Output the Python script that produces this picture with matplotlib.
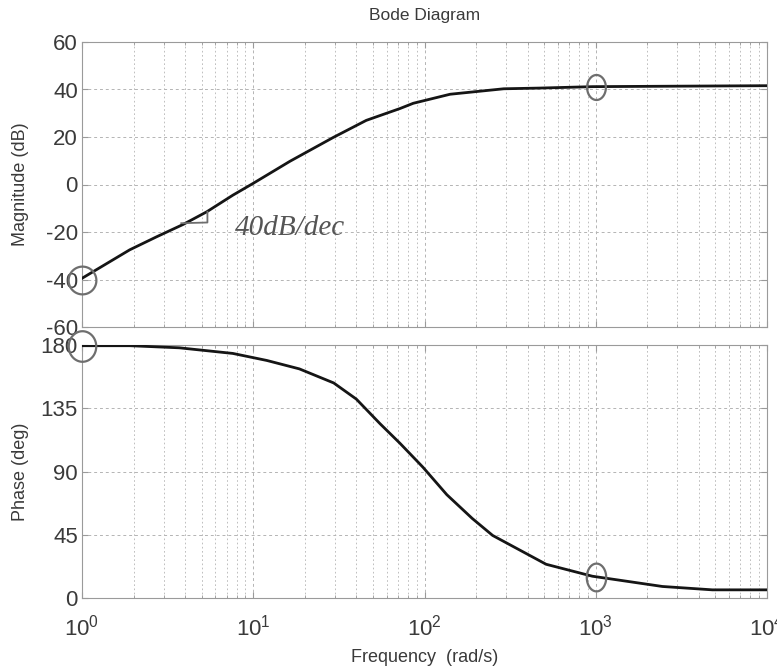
import numpy as np
import matplotlib
matplotlib.use("Agg")
import matplotlib.pyplot as plt
from matplotlib.path import Path
from matplotlib.ticker import LogLocator, FixedLocator, NullFormatter

plt.rcParams['font.family'] = ['Liberation Sans', 'DejaVu Sans']
plt.rcParams['mathtext.fontset'] = 'custom'
plt.rcParams['mathtext.rm'] = 'Liberation Sans'
plt.rcParams['mathtext.it'] = 'Liberation Sans:italic'
plt.rcParams['axes.unicode_minus'] = False

# ---- data ----
mag_freq = [1, 1.9, 2.73, 3.9, 5.35, 7.6, 10, 16.4, 29.3, 45.7, 72, 86, 141, 290, 470, 960, 3000, 10000]
mag_db = [-39.5, -27.5, -22, -16.8, -11.5, -4.5, 0.5, 9.8, 19.8, 27.0, 32.0, 34.2, 38.0, 40.3, 40.6, 41.2, 41.4, 41.6]

phase_freq = [1, 1.9, 3.7, 7.6, 12, 18.6, 29.5, 40, 55, 72, 98, 135, 190, 250, 513, 955, 2450, 4800, 10000]
phase_deg = [179.5, 179.5, 178, 174, 169, 163, 153, 141.5, 124, 110, 93, 73.5, 56.6, 44.5, 24, 15.5, 8.2, 5.8, 5.8]

mag_ticks = [-60, -40, -20, 0, 20, 40, 60]
phase_ticks = [0, 45, 90, 135, 180]

# hand-drawn annotations (grey pen)
mag_circle_freq = [1, 1000]
mag_circle_db = [-40, 41]
phase_circle_freq = [1, 1000]
phase_circle_deg = [179, 15]
slope_text = "40dB/dec"
slope_text_pos = (16.4, -18.5)
slope_mark_freq = [5.4, 5.4, 3.8]
slope_mark_db = [-11.5, -16, -16.3]

# ---- figure ----
W, H = 777, 669
fig = plt.figure(figsize=(W / 100, H / 100), dpi=100)
left, right = 82 / W, 767 / W
ax1 = fig.add_axes([left, 1 - 327 / H, right - left, (327 - 42) / H])
ax2 = fig.add_axes([left, 1 - 598 / H, right - left, (598 - 345) / H])

grid_col = '#b4b4b4'
spine_col = '#9a9a9a'
text_col = '#3a3a3a'
pen_col = '#6e6e6e'

for ax in (ax1, ax2):
    ax.set_xscale('log')
    ax.set_xlim(1, 1e4)
    ax.xaxis.set_major_locator(LogLocator(base=10, numticks=10))
    ax.xaxis.set_minor_locator(LogLocator(base=10, subs=np.arange(2, 10), numticks=50))
    ax.grid(True, which='major', color=grid_col, linestyle=(0, (3, 3)), linewidth=0.7)
    ax.grid(True, which='minor', axis='x', color=grid_col, linestyle=(0, (2, 3)), linewidth=0.6)
    for s in ax.spines.values():
        s.set_color(spine_col)
        s.set_linewidth(0.8)
    ax.tick_params(which='both', direction='in', colors=spine_col, labelcolor=text_col,
                   labelsize=16, top=True, right=True)
    ax.tick_params(which='major', length=4)
    ax.tick_params(which='minor', length=2)

# magnitude
ax1.plot(mag_freq, mag_db, color='#151515', linewidth=2.0, zorder=3)
ax1.set_ylim(-60, 60)
ax1.yaxis.set_major_locator(FixedLocator(mag_ticks))
ax1.xaxis.set_major_formatter(NullFormatter())
ax1.xaxis.set_minor_formatter(NullFormatter())
ax1.set_ylabel('Magnitude (dB)', fontsize=13, color=text_col, labelpad=12)
ax1.set_title('Bode Diagram', fontsize=12.5, color=text_col, pad=16)
ax1.tick_params(axis='y', pad=3)

# phase
ax2.plot(phase_freq, phase_deg, color='#151515', linewidth=2.0, zorder=3)
ax2.set_ylim(0, 180)
ax2.yaxis.set_major_locator(FixedLocator(phase_ticks))
ax2.xaxis.set_minor_formatter(NullFormatter())
ax2.set_ylabel('Phase (deg)', fontsize=13, color=text_col, labelpad=8)
ax2.set_xlabel('Frequency  (rad/s)', fontsize=13, color=text_col, labelpad=6)
ax2.tick_params(axis='x', pad=12)
ax2.tick_params(axis='y', pad=3)

# elliptical hand-drawn circle markers
theta = np.linspace(0, 2 * np.pi, 60)
def ell(sx, sy):
    return Path(np.column_stack([sx * np.cos(theta), sy * np.sin(theta)]))

ax1.plot(mag_circle_freq[:1], mag_circle_db[:1], linestyle='none', marker=ell(1, 1),
         markersize=20, markerfacecolor='none', markeredgecolor=pen_col, markeredgewidth=1.6,
         zorder=4, clip_on=False)
ax1.plot(mag_circle_freq[1:], mag_circle_db[1:], linestyle='none', marker=ell(0.75, 1),
         markersize=18, markerfacecolor='none', markeredgecolor=pen_col, markeredgewidth=1.6,
         zorder=4, clip_on=False)
ax2.plot(phase_circle_freq[:1], phase_circle_deg[:1], linestyle='none', marker=ell(0.9, 1),
         markersize=22, markerfacecolor='none', markeredgecolor=pen_col, markeredgewidth=1.6,
         zorder=4, clip_on=False)
ax2.plot(phase_circle_freq[1:], phase_circle_deg[1:], linestyle='none', marker=ell(0.7, 1),
         markersize=20, markerfacecolor='none', markeredgecolor=pen_col, markeredgewidth=1.6,
         zorder=4, clip_on=False)

ax1.plot(slope_mark_freq, slope_mark_db, color=pen_col, linewidth=1.3, zorder=4)
ax1.text(slope_text_pos[0], slope_text_pos[1], slope_text, fontsize=21, style='italic',
         family=['Liberation Serif', 'DejaVu Serif'], color='#555555',
         ha='center', va='center', rotation=0, zorder=4)

fig.savefig('out.png', dpi=100)
